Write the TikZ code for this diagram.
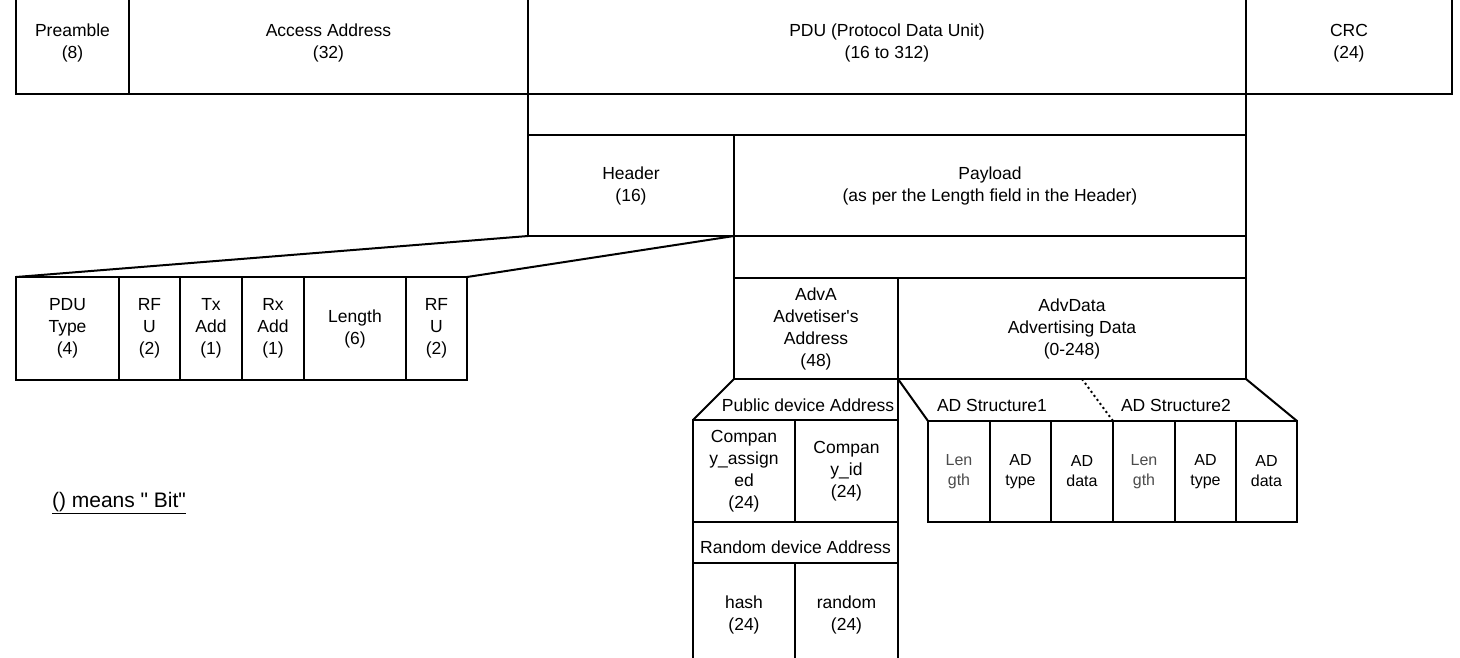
\documentclass[tikz,border=0pt]{standalone}
\usepackage{fontspec}
\setmainfont{Liberation Sans}
\newcommand\mfs{\fontsize{17.5}{22}\selectfont}
\newcommand\sfs{\fontsize{16}{20}\selectfont}
\newcommand\nfs{\fontsize{21}{24}\selectfont}
\begin{document}
\begin{tikzpicture}[x=1pt,y=-1pt,
  fld/.style={draw, line width=2pt, inner sep=0pt, outer sep=0pt, align=center, font=\mfs, anchor=north west},
  sfld/.style={fld, font=\sfs},
  ln/.style={line width=2pt},
  dotln/.style={line width=2pt, dash pattern=on 2pt off 3pt},
  lbl/.style={inner sep=0pt, font=\mfs}]
\useasboundingbox (0,0) rectangle (1460,657);
% top row
\node[fld, minimum width=113, minimum height=102] (pre) at (16,-8) {Preamble\\(8)};
\node[fld, minimum width=399, minimum height=102] (aa) at (129,-8) {Access Address\\(32)};
\node[fld, minimum width=718, minimum height=102] (pdu) at (528,-8) {PDU (Protocol Data Unit)\\(16 to 312)};
\node[fld, minimum width=206, minimum height=102] (crc) at (1246,-8) {CRC\\(24)};
% PDU expansion
\node[fld, minimum width=718, minimum height=41] (pdugap) at (528,94) {};
\node[fld, minimum width=206, minimum height=101] (hdr) at (528,135) {Header\\(16)};
\node[fld, minimum width=512, minimum height=101] (pay) at (734,135) {Payload\\(as per the Length field in the Header)};
% Payload expansion
\node[fld, minimum width=512, minimum height=42] (paygap) at (734,236) {};
\node[fld, minimum width=164, minimum height=101] (adva) at (734,278) {AdvA\\Advetiser\textquotesingle s\\Address\\(48)};
\node[fld, minimum width=348, minimum height=101] (advd) at (898,278) {AdvData\\Advertising Data\\(0-248)};
% header fields
\node[fld, minimum width=103, minimum height=103] (pdut) at (16,277) {PDU\\Type\\(4)};
\node[fld, minimum width=61, minimum height=103] (rfu1) at (119,277) {RF\\U\\(2)};
\node[fld, minimum width=62, minimum height=103] (tx) at (180,277) {Tx\\Add\\(1)};
\node[fld, minimum width=62, minimum height=103] (rx) at (242,277) {Rx\\Add\\(1)};
\node[fld, minimum width=102, minimum height=103] (len) at (304,277) {Length\\(6)};
\node[fld, minimum width=61, minimum height=103] (rfu2) at (406,277) {RF\\U\\(2)};
\draw[ln] (hdr.south west) -- (pdut.north west);
\draw[ln] (hdr.south east) -- (rfu2.north east);
% AdvA expansion
\node[fld, minimum width=102, minimum height=102] (ca) at (693,420) {Compan\\y\_assign\\ed\\(24)};
\node[fld, minimum width=103, minimum height=102] (cid) at (795,420) {Compan\\y\_id\\(24)};
\node[fld, minimum width=205, minimum height=41] (rnd) at (693,522) {};
\node[lbl] (rndlbl) at (795.5,547) {Random device Address};
\node[fld, minimum width=102, minimum height=104] (hash) at (693,563) {hash\\(24)};
\node[fld, minimum width=103, minimum height=104] (rand) at (795,563) {random\\(24)};
\draw[ln] (adva.south west) -- (ca.north west);
\draw[ln] (adva.south east) -- (cid.north east);
\node[lbl] (publbl) at (808,405) {Public device Address};
% AdvData expansion
\node[sfld, minimum width=62, minimum height=101, text=black!70] (l1) at (928,421) {Len\\gth};
\node[sfld, minimum width=61, minimum height=101] (t1) at (990,421) {AD\\type};
\node[sfld, minimum width=62, minimum height=101] (d1) at (1051,421) {AD\\data};
\node[sfld, minimum width=62, minimum height=101, text=black!70] (l2) at (1113,421) {Len\\gth};
\node[sfld, minimum width=61, minimum height=101] (t2) at (1175,421) {AD\\type};
\node[sfld, minimum width=61, minimum height=101] (d2) at (1236,421) {AD\\data};
\draw[ln] (advd.south west) -- (l1.north west);
\draw[ln] (advd.south east) -- (d2.north east);
\coordinate (dt) at (1082,379);
\draw[dotln] (dt) -- (l2.north west);
\node[lbl] (ad1lbl) at (992,405) {AD Structure1};
\node[lbl] (ad2lbl) at (1176,405) {AD Structure2};
% note
\node[inner sep=0pt, font=\nfs] (note) at (119,503) {\underline{() means \textquotedbl\ Bit\textquotedbl}};
\end{tikzpicture}
\end{document}
